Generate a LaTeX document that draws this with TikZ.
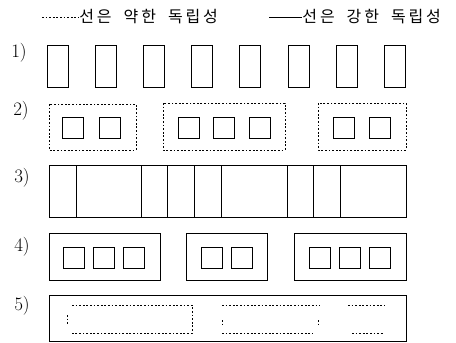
\documentclass[tikz,border=0pt]{standalone}
\usepackage{fontspec}
\newfontfamily\kr{Noto Sans CJK KR}[LetterSpace=18]
\newcommand\wgap{\hspace{12pt}}

\begin{document}
\begin{tikzpicture}[
      x=1pt, y=-1pt, line width=0.8pt,
      legend/.style={anchor=west, inner sep=0pt, font=\kr\fontsize{16}{17}\selectfont},
      num/.style={font=\fontsize{19}{21}\selectfont, inner sep=0pt},
      tallbox/.style={draw, minimum width=21pt, minimum height=42pt, inner sep=0pt},
      sq/.style={draw, minimum width=21pt, minimum height=21pt, inner sep=0pt},
      weakline/.style={line width=0.8pt, dash pattern=on 1.8pt off 1.8pt},
      strongline/.style={line width=0.8pt},
    ]
      \useasboundingbox (0,0) rectangle (456,343);

      % legend
      \node[legend] (weak) at (79,17) {선은\wgap 약한\wgap 독립성};
      \coordinate (weakstart) at (42,17);
      \draw[weakline] (weakstart) -- (weak.west);
      \node[legend] (strong) at (302,17) {선은\wgap 강한\wgap 독립성};
      \coordinate (strongstart) at (269,17);
      \draw[strongline] (strongstart) -- (strong.west);

      % row labels
      \node[num] (n1) at (19,53) {1)};
      \node[num] (n2) at (21,111) {2)};
      \node[num] (n3) at (22,178) {3)};
      \node[num] (n4) at (22,247) {4)};
      \node[num] (n5) at (22,306) {5)};

      % 1) eight separate boxes
      \foreach \i in {0,...,7}
        \node[tallbox] (a\i) at (57.5+48.2*\i, 66) {};

      % 2) weak groups
      \draw[weakline] (49,104) rectangle (136,150);
      \draw[weakline] (163,103) rectangle (285,150);
      \draw[weakline] (318,103) rectangle (406,150);
      \node[sq] (b1) at (73,128) {};
      \node[sq] (b2) at (109.5,128) {};
      \node[sq] (b3) at (188.5,128) {};
      \node[sq] (b4) at (223.5,128) {};
      \node[sq] (b5) at (260,128) {};
      \node[sq] (b6) at (343.5,128) {};
      \node[sq] (b7) at (379.5,128) {};

      % 3) one strip cut by lines
      \draw (49,165) rectangle (406,217);
      \foreach \x in {76,141,167,194,221,287,313,340}
        \draw (\x,165) -- (\x,217);

      % 4) strong groups
      \draw (49,233) rectangle (160,280);
      \draw (186,233) rectangle (267,280);
      \draw (294,233) rectangle (406,280);
      \node[sq] (c1) at (74,257.5) {};
      \node[sq] (c2) at (104,257.5) {};
      \node[sq] (c3) at (134,257.5) {};
      \node[sq] (c4) at (211.5,257.5) {};
      \node[sq] (c5) at (241.5,257.5) {};
      \node[sq] (c6) at (319.5,257.5) {};
      \node[sq] (c7) at (349.5,257.5) {};
      \node[sq] (c8) at (380,257.5) {};

      % 5) strong frame round weak groups
      \draw (49,295) rectangle (406,341);
      \draw[weakline] (72,305) -- (192,305) -- (192,333) -- (72,333);
      \draw[weakline] (67,315) -- (67,324);
      \draw[weakline] (222,305) -- (320,305);
      \draw[weakline] (222,333) -- (313,333);
      \draw[weakline] (222,320) -- (222,325);
      \draw[weakline] (318,320) -- (318,325);
      \draw[weakline] (348,305) -- (385,305);
      \draw[weakline] (352,333) -- (383,333);

    \end{tikzpicture}
\end{document}
